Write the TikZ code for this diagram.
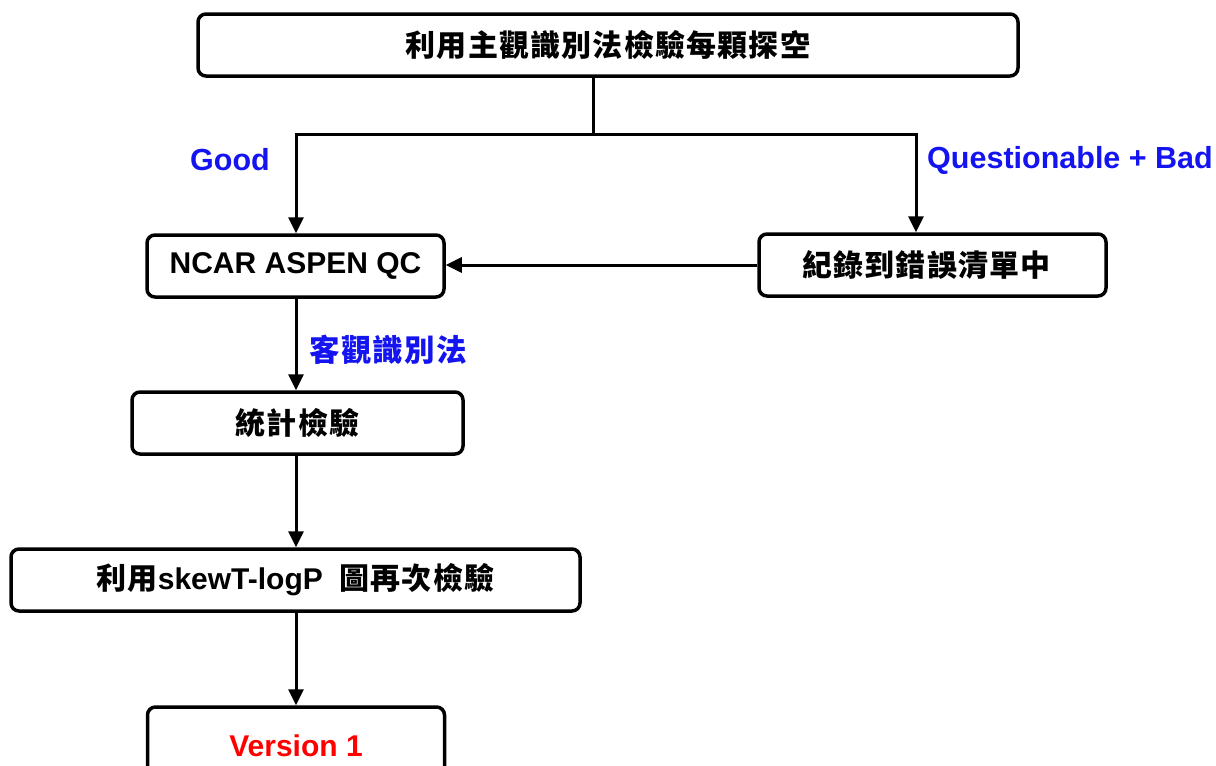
\documentclass[tikz,border=0pt]{standalone}
\usepackage{fontspec}
\setmainfont{Liberation Sans}
\newfontfamily\cjk{Noto Sans CJK TC}[LetterSpace=4]
\usetikzlibrary{arrows.meta}
\definecolor{lblblue}{RGB}{20,20,240}
\tikzset{
  box/.style={draw=black, line width=3.5pt, rounded corners=8pt, fill=white, minimum height=62pt, inner sep=0pt, font=\fontsize{30}{34}\selectfont\bfseries},
  arr/.style={line width=3pt, -{Triangle[length=16pt,width=15pt]}},
  con/.style={line width=3pt},
  lbl/.style={font=\fontsize{30.5}{34}\selectfont\bfseries, text=lblblue, inner sep=0pt},
}
\begin{document}
\begin{tikzpicture}[x=1pt,y=-1pt]
\useasboundingbox (0,0) rectangle (1216,766);
\node[box, minimum width=820pt] (top) at (608,45) {\cjk 利用主觀識別法檢驗每顆探空};
\node[box, minimum width=297pt] (ncar) at (295.5,266) {NCAR ASPEN QC};
\node[box, minimum width=347pt] (rec) at (932.5,265) {\cjk 紀錄到錯誤清單中\hspace*{12pt}};
\node[box, minimum width=331pt] (stat) at (297.5,423) {\cjk 統計檢驗};
\node[box, minimum width=569pt] (skew) at (295.5,580) {{\cjk 利用}skewT-logP\ \ {\cjk 圖再次檢驗}};
\node[box, minimum width=297pt, minimum height=78pt, text=red] (ver) at (296,746) {Version 1};
\coordinate (j) at (593,134);
\coordinate (rx) at (916,0);
\coordinate (nx) at (296,0);
\draw[con] (top.south -| j) -- (j);
\draw[arr] (j) -| (ncar.north -| nx);
\draw[arr] (j) -| (rec.north -| rx);
\draw[arr] (rec.west) -- (rec.west -| ncar.east);
\draw[arr] (ncar.south -| nx) -- (stat.north -| nx);
\draw[arr] (stat.south -| nx) -- (skew.north -| nx);
\draw[arr] (skew.south -| nx) -- (ver.north -| nx);
\node[lbl] (good) at (230,160) {Good};
\node[lbl] (qb) at (1070,160) {Questionable + Bad};
\node[lbl] (obj) at (388,350) {\cjk 客觀識別法};
\end{tikzpicture}
\end{document}
